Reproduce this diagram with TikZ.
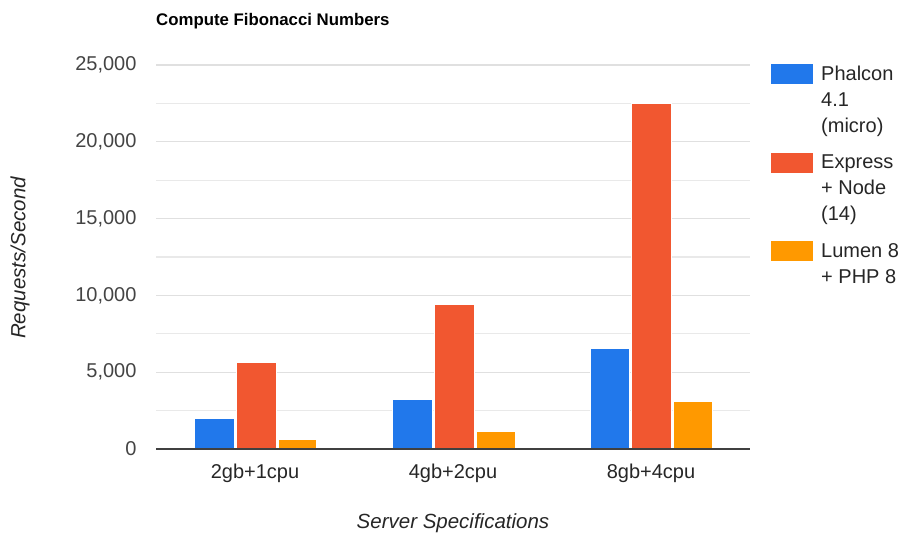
\documentclass[tikz,border=0pt]{standalone}
\usepackage{fontspec}
\setmainfont{Liberation Sans}
\usetikzlibrary{positioning}

\definecolor{phalcon}{RGB}{33,120,235}
\definecolor{express}{RGB}{241,87,48}
\definecolor{lumen}{RGB}{255,153,0}
\definecolor{gridgray}{RGB}{224,224,224}
\definecolor{textgray}{RGB}{68,68,68}

\begin{document}
\begin{tikzpicture}[x=1pt, y=-1pt,
grid/.style={gridgray, line width=1.2pt},
bar/.style={draw=white, line width=0.6pt},
tick/.style={anchor=east, text=textgray, font=\fontsize{20}{24}\selectfont},
category/.style={text=black!85, font=\fontsize{20}{24}\selectfont},
legendbox/.style={minimum width=42pt, minimum height=20pt, inner sep=0pt},
legendtext/.style={anchor=north west, align=left, inner sep=0pt, text=black!85,
  font=\fontsize{20}{26}\selectfont}]
\useasboundingbox (0,0) rectangle (902,538);

\node[anchor=base west, inner sep=0pt, font=\bfseries\fontsize{16.8}{20}\selectfont] (Title) at (156,25) {Compute Fibonacci Numbers};

% gridlines, every 2,500
\draw[grid] (156,65) -- (750,65);
\draw[grid, gridgray!70] (156,103.4) -- (750,103.4);
\draw[grid] (156,141.8) -- (750,141.8);
\draw[grid, gridgray!70] (156,180.2) -- (750,180.2);
\draw[grid] (156,218.6) -- (750,218.6);
\draw[grid, gridgray!70] (156,257) -- (750,257);
\draw[grid] (156,295.4) -- (750,295.4);
\draw[grid, gridgray!70] (156,333.8) -- (750,333.8);
\draw[grid] (156,372.2) -- (750,372.2);
\draw[grid, gridgray!70] (156,410.6) -- (750,410.6);

\node[tick] (T25) at (140,65) {25,000};
\node[tick] (T20) at (140,141.8) {20,000};
\node[tick] (T15) at (140,218.6) {15,000};
\node[tick] (T10) at (140,295.4) {10,000};
\node[tick] (T5) at (140,372.2) {5,000};
\node[tick] (T0) at (140,449) {0};

% bars
\fill[bar, fill=phalcon] (194,449) rectangle (234,418);
\fill[bar, fill=express] (236,449) rectangle (276,362);
\fill[bar, fill=lumen] (278,449) rectangle (316,439);

\fill[bar, fill=phalcon] (392,449) rectangle (432,399);
\fill[bar, fill=express] (434,449) rectangle (474,304);
\fill[bar, fill=lumen] (476,449) rectangle (515,431);

\fill[bar, fill=phalcon] (590,449) rectangle (629,348);
\fill[bar, fill=express] (631,449) rectangle (671,103);
\fill[bar, fill=lumen] (673,449) rectangle (712,401);

\draw[black!75, line width=1.2pt] (156,449) -- (750,449);

\node[category] (G1) at (255,473) {2gb+1cpu};
\node[category] (G2) at (453,473) {4gb+2cpu};
\node[category] (G3) at (651,473) {8gb+4cpu};

\node[font=\itshape\fontsize{20.5}{24}\selectfont, text=black!85] (XLabel) at (453,523) {Server Specifications};
\node[font=\itshape\fontsize{20.5}{24}\selectfont, text=black!85, rotate=90] (YLabel) at (20,258) {Requests/Second};

% legend
\node[legendbox, fill=phalcon] (LPhalcon) at (792,74) {};
\node[legendtext] (TPhalcon) at (821,66) {Phalcon\\4.1\\(micro)};
\node[legendbox, fill=express] (LExpress) at (792,163) {};
\node[legendtext] (TExpress) at (821,155) {Express\\+ Node\\(14)};
\node[legendbox, fill=lumen] (LLumen) at (792,251) {};
\node[legendtext] (TLumen) at (821,243) {Lumen 8\\+ PHP 8};

\end{tikzpicture}
\end{document}
